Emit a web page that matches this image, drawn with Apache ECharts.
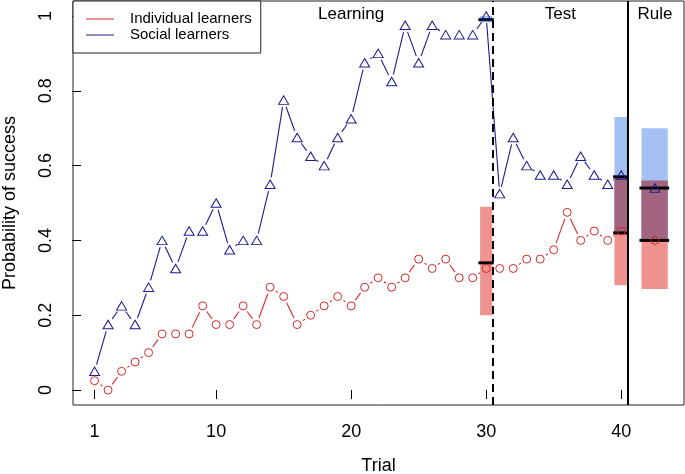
<!DOCTYPE html>
<html><head><meta charset="utf-8">
<script src="https://cdn.jsdelivr.net/npm/echarts@6/dist/echarts.min.js"></script>
<style>html,body{margin:0;padding:0;background:#fff}#c{width:685px;height:474px}</style>
</head><body><div id="c"></div>
<script>
// ---- data ----
const trials = [1,2,3,4,5,6,7,8,9,10,11,12,13,14,15,16,17,18,19,20,21,22,23,24,25,26,27,28,29,30,31,32,33,34,35,36,37,38,39,40];
const individual = [0.025,0,0.05,0.075,0.1,0.15,0.15,0.15,0.225,0.175,0.175,0.225,0.175,0.275,0.25,0.175,0.2,0.225,0.25,0.225,0.275,0.3,0.275,0.3,0.35,0.325,0.35,0.3,0.3,0.325,0.325,0.325,0.35,0.35,0.375,0.475,0.4,0.425,0.4,0.425];
const social = [0.05,0.175,0.225,0.175,0.275,0.4,0.325,0.425,0.425,0.5,0.375,0.4,0.4,0.55,0.775,0.675,0.625,0.6,0.675,0.725,0.875,0.9,0.825,0.975,0.875,0.975,0.95,0.95,0.95,1.0,0.525,0.675,0.6,0.575,0.575,0.55,0.625,0.575,0.55,0.575];
const ruleX = [42.5];
const ruleIndividual = [0.40];
const ruleSocial = [0.54];
const xTicks = [1,10,20,30,40];
const yTicks = [0,0.2,0.4,0.6,0.8,1];
// summary bars (end of learning, test, rule)
const barX0 = [29.55,39.5,41.5];
const barX1 = [30.45,40.45,43.45];
const meanX0 = [29.42,39.4,41.35];
const meanX1 = [30.56,40.55,43.55];
const indLow = [0.20,0.28,0.27];
const indHigh = [0.49,0.57,0.56];
const indMean = [0.34,0.42,0.40];
const socLow = [0.983,0.42,0.40];
const socHigh = [1.0,0.73,0.70];
const socMean = [0.99,0.57,0.54];
const phaseLines = [30.5,40.5];
const sectionNames = ['Learning','Test','Rule'];
const sectionX = [20,35.5,42.5];
const sectionY = [1.0,1.0,1.0];

// ---- style ----
const RED = '#d42a2a', BLUE = '#1c1c8e';
const RED_FILL = '#ee938f', BLUE_FILL = '#a3c0f3', MIX_FILL = '#a2647f';
const FONT = '"Liberation Sans", Arial, Helvetica, sans-serif';
const GAP = 7;

function segs(xs, ys){ const out=[]; for(let i=0;i<xs.length-1;i++) out.push([xs[i],ys[i],xs[i+1],ys[i+1]]); return out; }
function segRender(color){
  return function(params, api){
    const p1 = api.coord([api.value(0), api.value(1)]);
    const p2 = api.coord([api.value(2), api.value(3)]);
    const dx = p2[0]-p1[0], dy = p2[1]-p1[1];
    const d = Math.hypot(dx, dy);
    if (d <= 2*GAP) return {type:'group', children:[]};
    const ux = dx/d, uy = dy/d;
    return {type:'line', shape:{x1:p1[0]+ux*GAP, y1:p1[1]+uy*GAP, x2:p2[0]-ux*GAP, y2:p2[1]-uy*GAP},
            style:{stroke:color, lineWidth:1.1}};
  };
}
const barData = barX0.map((x,i)=>[x, barX1[i], indLow[i], indHigh[i], indMean[i], socLow[i], socHigh[i], socMean[i], meanX0[i], meanX1[i]]);
function rectBetween(api, x0, x1, lo, hi, fill){
  const a = api.coord([x0, hi]);
  const b = api.coord([x1, lo]);
  return {type:'rect', shape:{x:a[0], y:a[1], width:b[0]-a[0], height:b[1]-a[1]}, style:{fill:fill}};
}
function meanLine(api, x0, x1, y){
  const m0 = api.coord([x0, y]), m1 = api.coord([x1, y]);
  return {type:'line', shape:{x1:m0[0], y1:m0[1], x2:m1[0], y2:m1[1]}, style:{stroke:'#000', lineWidth:3}};
}
function barRender(params, api){
  const v = i => api.value(i);
  const x0 = v(0), x1 = v(1);
  const children = [
    rectBetween(api, x0, x1, v(2), v(3), RED_FILL),
    rectBetween(api, x0, x1, v(5), v(6), BLUE_FILL)
  ];
  const oLo = Math.max(v(2), v(5)), oHi = Math.min(v(3), v(6));
  if (oHi > oLo) children.push(rectBetween(api, x0, x1, oLo, oHi, MIX_FILL));
  children.push(meanLine(api, v(8), v(9), v(4)));
  children.push(meanLine(api, v(8), v(9), v(7)));
  return {type:'group', children:children};
}

const chart = echarts.init(document.getElementById('c'), null, {renderer:'canvas'});
chart.setOption({
  backgroundColor:'#fff',
  animation:false,
  textStyle:{fontFamily:FONT},
  grid:{left:73, right:1, top:1, bottom:69, show:true, borderColor:'#222', borderWidth:1,
        backgroundColor:'transparent', containLabel:false, outerBoundsMode:'none'},
  legend:{
    left:73, top:1, orient:'vertical', data:['Individual learners','Social learners'],
    icon:'rect', itemWidth:28, itemHeight:1, itemGap:0, padding:[10,9,10,13],
    borderColor:'#222', borderWidth:1, backgroundColor:'#fff', selectedMode:false,
    textStyle:{fontSize:15, color:'#000', fontFamily:FONT, lineHeight:16, padding:[0,0,0,11]}
  },
  xAxis:{
    type:'value', min:-0.6, max:44.65,
    axisLine:{show:false}, splitLine:{show:false},
    axisTick:{show:true, length:9, customValues:xTicks, lineStyle:{color:'#000', width:1}},
    axisLabel:{customValues:xTicks, margin:18, fontSize:18, color:'#000', fontFamily:FONT},
    name:'Trial', nameLocation:'middle', nameGap:52,
    nameTextStyle:{fontSize:18, color:'#000', fontFamily:FONT}
  },
  yAxis:{
    type:'value', min:-0.04, max:1.04,
    axisLine:{show:false}, splitLine:{show:false},
    axisTick:{show:true, length:9, customValues:yTicks, lineStyle:{color:'#000', width:1}},
    axisLabel:{customValues:yTicks, rotate:90, margin:18, fontSize:18, color:'#000', fontFamily:FONT,
      formatter:v=>String(+(+v).toFixed(2))},
    name:'Probability of success', nameLocation:'middle', nameGap:54,
    nameTextStyle:{fontSize:18, color:'#000', fontFamily:FONT}
  },
  series:[
    {type:'custom', name:'Individual learners', itemStyle:{color:RED}, renderItem:segRender(RED),
     encode:{x:[0,2], y:[1,3]}, data:segs(trials, individual), z:2, silent:true},
    {type:'custom', name:'Social learners', itemStyle:{color:BLUE}, renderItem:segRender(BLUE),
     encode:{x:[0,2], y:[1,3]}, data:segs(trials, social), z:2, silent:true},
    {type:'custom', name:'bars', renderItem:barRender, encode:{x:[0,1,8,9], y:[2,3,5,6]},
     data:barData, z:3, silent:true},
    {type:'scatter', name:'ind_pts', symbol:'circle', symbolSize:8,
     itemStyle:{color:'rgba(0,0,0,0)', borderColor:RED, borderWidth:1, opacity:1},
     data:trials.map((t,i)=>[t, individual[i]]).concat(ruleX.map((x,i)=>[x, ruleIndividual[i]])), z:4, silent:true},
    {type:'scatter', name:'soc_pts', symbol:'triangle', symbolSize:[10,8.5],
     itemStyle:{color:'rgba(0,0,0,0)', borderColor:BLUE, borderWidth:1, opacity:1},
     data:trials.map((t,i)=>[t, social[i]]).concat(ruleX.map((x,i)=>[x, ruleSocial[i]])), z:4, silent:true},
    {type:'scatter', name:'sections', symbolSize:1, itemStyle:{color:'rgba(0,0,0,0)', opacity:1}, z:5, silent:true,
     data:sectionX.map((x,i)=>({value:[x, sectionY[i]], name:sectionNames[i]})),
     label:{show:true, position:'inside', formatter:'{b}', fontSize:17, color:'#000', fontFamily:FONT, offset:[0,-1.5], textBorderWidth:0},
     markLine:{silent:true, symbol:'none', label:{show:false}, z:5,
       data:phaseLines.map((x,i)=>({xAxis:x, lineStyle:{type:i===0?[8,5]:'solid', width:2, color:'#000', opacity:1}}))}
    }
  ]
});
</script></body></html>
